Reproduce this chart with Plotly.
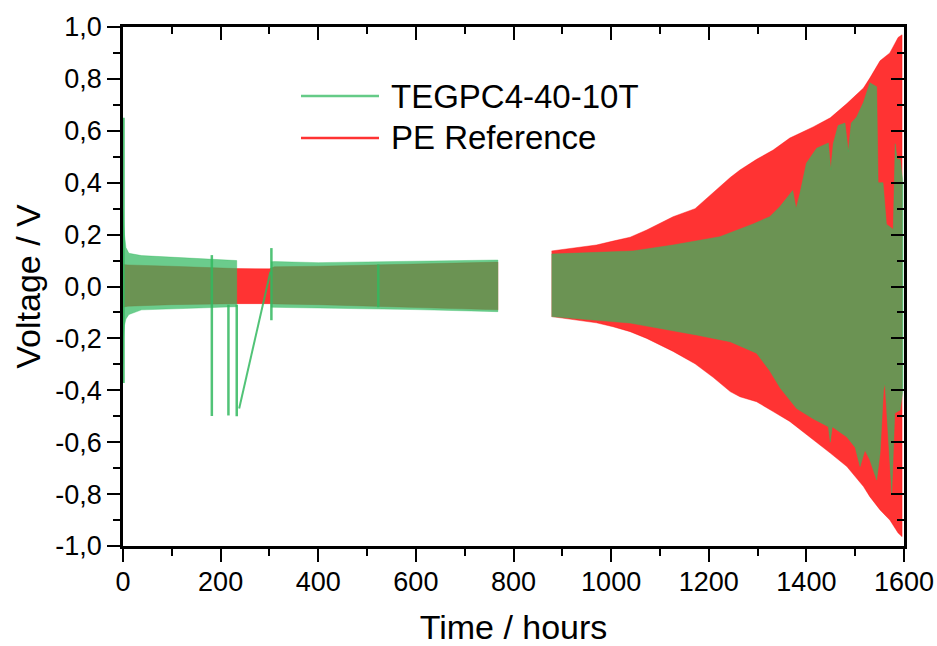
import plotly.graph_objects as go

# ---------------- data ----------------
# PE Reference: voltage envelope (upper / lower) of the cycling signal
pe1_t = [0, 10, 100, 233, 300, 310, 400, 500, 600, 700, 768]
pe1_up = [0.085, 0.083, 0.078, 0.069, 0.068, 0.076, 0.078, 0.082, 0.086, 0.090, 0.094]
pe1_lo = [-0.080, -0.076, -0.070, -0.066, -0.066, -0.067, -0.070, -0.075, -0.080, -0.086, -0.090]

pe2_t = [878, 930, 970, 1004, 1039, 1073, 1107, 1127, 1172, 1209, 1244, 1264, 1298,
         1332, 1366, 1414, 1449, 1483, 1517, 1530, 1551, 1571, 1588, 1596]
pe2_up = [0.137, 0.150, 0.160, 0.175, 0.190, 0.218, 0.250, 0.269, 0.300, 0.362, 0.420,
          0.449, 0.490, 0.526, 0.572, 0.615, 0.650, 0.705, 0.765, 0.803, 0.870, 0.900,
          0.960, 0.970]
pe2_lo = [-0.116, -0.130, -0.140, -0.155, -0.174, -0.200, -0.232, -0.250, -0.298,
          -0.350, -0.405, -0.425, -0.444, -0.482, -0.520, -0.590, -0.642, -0.694,
          -0.771, -0.810, -0.861, -0.900, -0.950, -0.964]

# TEGPC4-40-10T: voltage envelope
tg1_t = [0, 1, 3, 6, 12, 38, 86, 154, 229, 233]
tg1_up = [0.30, 0.25, 0.20, 0.150, 0.128, 0.119, 0.114, 0.106, 0.100, 0.100]
tg1_lo = [-0.30, -0.20, -0.150, -0.125, -0.108, -0.090, -0.086, -0.083, -0.078, -0.078]

tg2_t = [303, 310, 400, 500, 600, 700, 768]
tg2_up = [0.095, 0.096, 0.092, 0.095, 0.097, 0.100, 0.102]
tg2_lo = [-0.080, -0.078, -0.082, -0.086, -0.089, -0.093, -0.097]

tg3_up_t = [878, 1045, 1127, 1223, 1291, 1325, 1346, 1362, 1372, 1379, 1387, 1400,
            1421, 1445, 1450, 1455, 1465, 1479, 1486, 1492, 1503, 1517, 1530, 1544,
            1547, 1557, 1564, 1578, 1582, 1586, 1592, 1598]
tg3_up = [0.125, 0.137, 0.160, 0.192, 0.241, 0.269, 0.308, 0.345, 0.370, 0.300, 0.360,
          0.475, 0.533, 0.553, 0.450, 0.550, 0.620, 0.630, 0.520, 0.630, 0.653, 0.710,
          0.785, 0.770, 0.400, 0.400, 0.240, 0.220, 0.550, 0.490, 0.490, 0.400]
tg3_lo_t = [878, 1039, 1175, 1244, 1298, 1325, 1346, 1380, 1414, 1445, 1449, 1453,
            1483, 1500, 1510, 1520, 1530, 1544, 1551, 1558, 1561, 1568, 1575, 1581,
            1592, 1598]
tg3_lo = [-0.116, -0.141, -0.187, -0.213, -0.257, -0.325, -0.390, -0.470, -0.510,
          -0.540, -0.600, -0.540, -0.580, -0.620, -0.694, -0.630, -0.668, -0.746,
          -0.642, -0.400, -0.372, -0.600, -0.797, -0.488, -0.476, -0.400]

# TEGPC4-40-10T: isolated spikes (time, max, min) and the ramp after the outage
spike_t = [1, 182, 216, 233, 304, 523]
spike_hi = [0.65, 0.121, -0.070, -0.070, 0.148, 0.085]
spike_lo = [-0.372, -0.499, -0.497, -0.500, -0.130, -0.080]
ramp_t = [238, 302]
ramp_v = [-0.470, 0.057]

x_tick_vals = [0, 200, 400, 600, 800, 1000, 1200, 1400, 1600]
y_tick_vals = [-1.0, -0.8, -0.6, -0.4, -0.2, 0.0, 0.2, 0.4, 0.6, 0.8, 1.0]
y_tick_text = ["-1,0", "-0,8", "-0,6", "-0,4", "-0,2", "0,0", "0,2", "0,4", "0,6", "0,8", "1,0"]

series_names = ["TEGPC4-40-10T", "PE Reference"]

# ---------------- styling ----------------
RED = "rgba(255,0,0,0.80)"
GREEN = "rgba(50,185,95,0.72)"
GREEN_LINE = "rgba(50,185,95,0.85)"
FONT = "Liberation Sans, Arial, sans-serif"


def band(t_up, up, t_lo, lo):
    return list(t_up) + list(t_lo)[::-1], list(up) + list(lo)[::-1]


fig = go.Figure()

for t, up, lo in [(pe1_t, pe1_up, pe1_lo), (pe2_t, pe2_up, pe2_lo)]:
    xs, ys = band(t, up, t, lo)
    fig.add_trace(go.Scatter(x=xs, y=ys, mode="lines", fill="toself",
                             fillcolor=RED, line=dict(color=RED, width=0.5),
                             hoverinfo="skip", showlegend=False))

for tu, up, tl, lo in [(tg1_t, tg1_up, tg1_t, tg1_lo), (tg2_t, tg2_up, tg2_t, tg2_lo),
                       (tg3_up_t, tg3_up, tg3_lo_t, tg3_lo)]:
    xs, ys = band(tu, up, tl, lo)
    fig.add_trace(go.Scatter(x=xs, y=ys, mode="lines", fill="toself",
                             fillcolor=GREEN, line=dict(color=GREEN, width=0.5),
                             hoverinfo="skip", showlegend=False))

sx, sy = [], []
for t, hi, lo in zip(spike_t, spike_hi, spike_lo):
    sx += [t, t, None]
    sy += [hi, lo, None]
fig.add_trace(go.Scatter(x=sx, y=sy, mode="lines",
                         line=dict(color=GREEN_LINE, width=2.5),
                         hoverinfo="skip", showlegend=False))
# the ramp is drawn on the mirrored (top/right) axes, which share the same scales
fig.add_trace(go.Scatter(x=ramp_t, y=ramp_v, mode="lines", xaxis="x2", yaxis="y2",
                         line=dict(color=GREEN_LINE, width=2),
                         hoverinfo="skip", showlegend=False))

# ---------------- layout ----------------
W, H = 937, 646
L, R, T, B = 123, 33, 27, 100
pw, ph = W - L - R, H - T - B


def px_x(p):
    return (p - L) / pw


def px_y(p):
    return (H - B - p) / ph


axis_common = dict(showline=True, linecolor="black", linewidth=2.5, showgrid=False,
                   zeroline=False, tickcolor="black", tickwidth=2, ticklen=13,
                   automargin=False,
                   tickfont=dict(family=FONT, size=27, color="black"))

fig.update_layout(
    width=W, height=H,
    margin=dict(l=L, r=R, t=T, b=B, autoexpand=False),
    paper_bgcolor="white", plot_bgcolor="white",
    showlegend=False,
    xaxis=dict(range=[0, 1600], tickmode="array", tickvals=x_tick_vals,
               ticks="outside",
               minor=dict(ticks="outside", ticklen=7, tickwidth=2, tickcolor="black",
                          tickmode="linear", tick0=0, dtick=100),
               title=dict(text="Time / hours", font=dict(family=FONT, size=34, color="black"),
                          standoff=28),
               ticklabelstandoff=-3,
               **axis_common),
    yaxis=dict(range=[-1, 1], tickmode="array", tickvals=y_tick_vals, ticktext=y_tick_text,
               ticks="outside",
               minor=dict(ticks="outside", ticklen=7, tickwidth=2, tickcolor="black",
                          tickmode="linear", tick0=0, dtick=0.1),
               title=dict(text="Voltage / V", font=dict(family=FONT, size=34, color="black"),
                          standoff=5),
               ticklabelstandoff=0,
               **axis_common),
    xaxis2=dict(range=[0, 1600], overlaying="x", side="top", anchor="y2",
                tickmode="array", tickvals=x_tick_vals, ticks="inside",
                showticklabels=False,
                minor=dict(ticks="inside", ticklen=7, tickwidth=2, tickcolor="black",
                           tickmode="linear", tick0=0, dtick=100),
                **axis_common),
    yaxis2=dict(range=[-1, 1], overlaying="y", side="right", anchor="x2",
                tickmode="array", tickvals=y_tick_vals, ticks="inside",
                showticklabels=False,
                minor=dict(ticks="inside", ticklen=7, tickwidth=2, tickcolor="black",
                           tickmode="linear", tick0=0, dtick=0.1),
                **axis_common),
)

# manual legend (long line samples as in the reference)
legend_rows = [(96, "rgba(50,185,95,0.75)"), (138, "rgba(255,0,0,0.8)")]
for (ypix, col), name in zip(legend_rows, series_names):
    fig.add_shape(type="line", xref="paper", yref="paper",
                  x0=px_x(301), x1=px_x(379), y0=px_y(ypix), y1=px_y(ypix),
                  line=dict(color=col, width=2.5))
    fig.add_annotation(xref="paper", yref="paper", x=px_x(389), y=px_y(ypix),
                       xanchor="left", yanchor="middle", showarrow=False,
                       text=name, font=dict(family=FONT, size=33, color="black"))

fig.write_html(
    "out.html",
    config={"displayModeBar": False},
    post_script="document.body.style.margin='0';document.body.style.overflow='hidden';",
)
